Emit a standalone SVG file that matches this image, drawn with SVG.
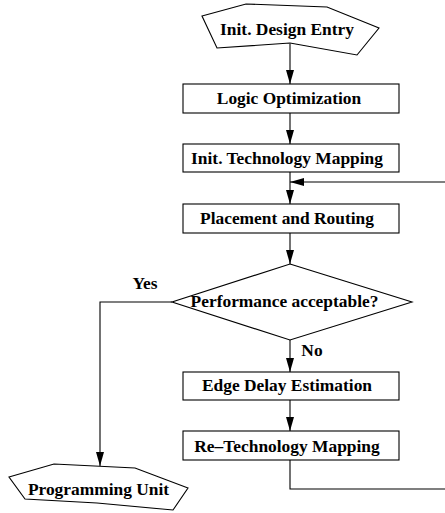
<svg xmlns="http://www.w3.org/2000/svg" width="445" height="513" viewBox="0 0 445 513">
<style>
.shape{fill:#fff;stroke:#000;stroke-width:1.1}
.lbl{font-family:"Liberation Serif","Times New Roman",serif;font-weight:bold;font-size:17.4px;fill:#000;text-anchor:middle}
.edge{fill:none;stroke:#000;stroke-width:1.1}
</style>
<defs>
<marker id="ah" markerWidth="14" markerHeight="8" refX="14" refY="4" orient="auto" markerUnits="userSpaceOnUse">
<path d="M0,0 L14,4 L0,8 Z" fill="#000"/>
</marker>
</defs>
<rect width="445" height="513" fill="#fff"/>
<g id="edges">
<line class="edge" x1="290" y1="44" x2="290" y2="84" marker-end="url(#ah)"/>
<line class="edge" x1="290" y1="113" x2="290" y2="144" marker-end="url(#ah)"/>
<line class="edge" x1="290" y1="172" x2="290" y2="204" marker-end="url(#ah)"/>
<line class="edge" x1="290" y1="233" x2="290" y2="264" marker-end="url(#ah)"/>
<line class="edge" x1="290" y1="340" x2="290" y2="372" marker-end="url(#ah)"/>
<line class="edge" x1="290" y1="400" x2="290" y2="431" marker-end="url(#ah)"/>
<polyline class="edge" points="290,460 290,489 446,489"/>
<line class="edge" x1="446" y1="182" x2="290" y2="182" marker-end="url(#ah)"/>
<polyline class="edge" points="172,302 100,302 100,466" marker-end="url(#ah)"/>
<text class="lbl" x="145" y="289">Yes</text>
<text class="lbl" x="312" y="356">No</text>
</g>
<g id="init-design-entry">
<polygon class="shape" points="202,16 246,4 327,7 379,28 357,55 290,43 217,48"/>
<text class="lbl" x="287" y="35">Init. Design Entry</text>
</g>
<g id="logic-optimization">
<rect class="shape" x="183" y="84" width="216" height="29"/>
<text class="lbl" x="289" y="103.5">Logic Optimization</text>
</g>
<g id="init-technology-mapping">
<rect class="shape" x="183" y="144" width="216" height="28"/>
<text class="lbl" x="287" y="163.5">Init. Technology Mapping</text>
</g>
<g id="placement-routing">
<rect class="shape" x="183" y="204" width="216" height="29"/>
<text class="lbl" x="287" y="223.5">Placement and Routing</text>
</g>
<g id="performance-acceptable">
<polygon class="shape" points="290,264 412,302 290,340 172,302"/>
<text class="lbl" x="284.5" y="307">Performance acceptable?</text>
</g>
<g id="edge-delay-estimation">
<rect class="shape" x="183" y="372" width="216" height="28"/>
<text class="lbl" x="287" y="390.5">Edge Delay Estimation</text>
</g>
<g id="re-technology-mapping">
<rect class="shape" x="183" y="431" width="216" height="29"/>
<text class="lbl" x="287" y="451.5">Re–Technology Mapping</text>
</g>
<g id="programming-unit">
<polygon class="shape" points="9,477 54,464 135,468 188,488 173,510 97,503 25,499"/>
<text class="lbl" x="98.5" y="495">Programming Unit</text>
</g>
</svg>
